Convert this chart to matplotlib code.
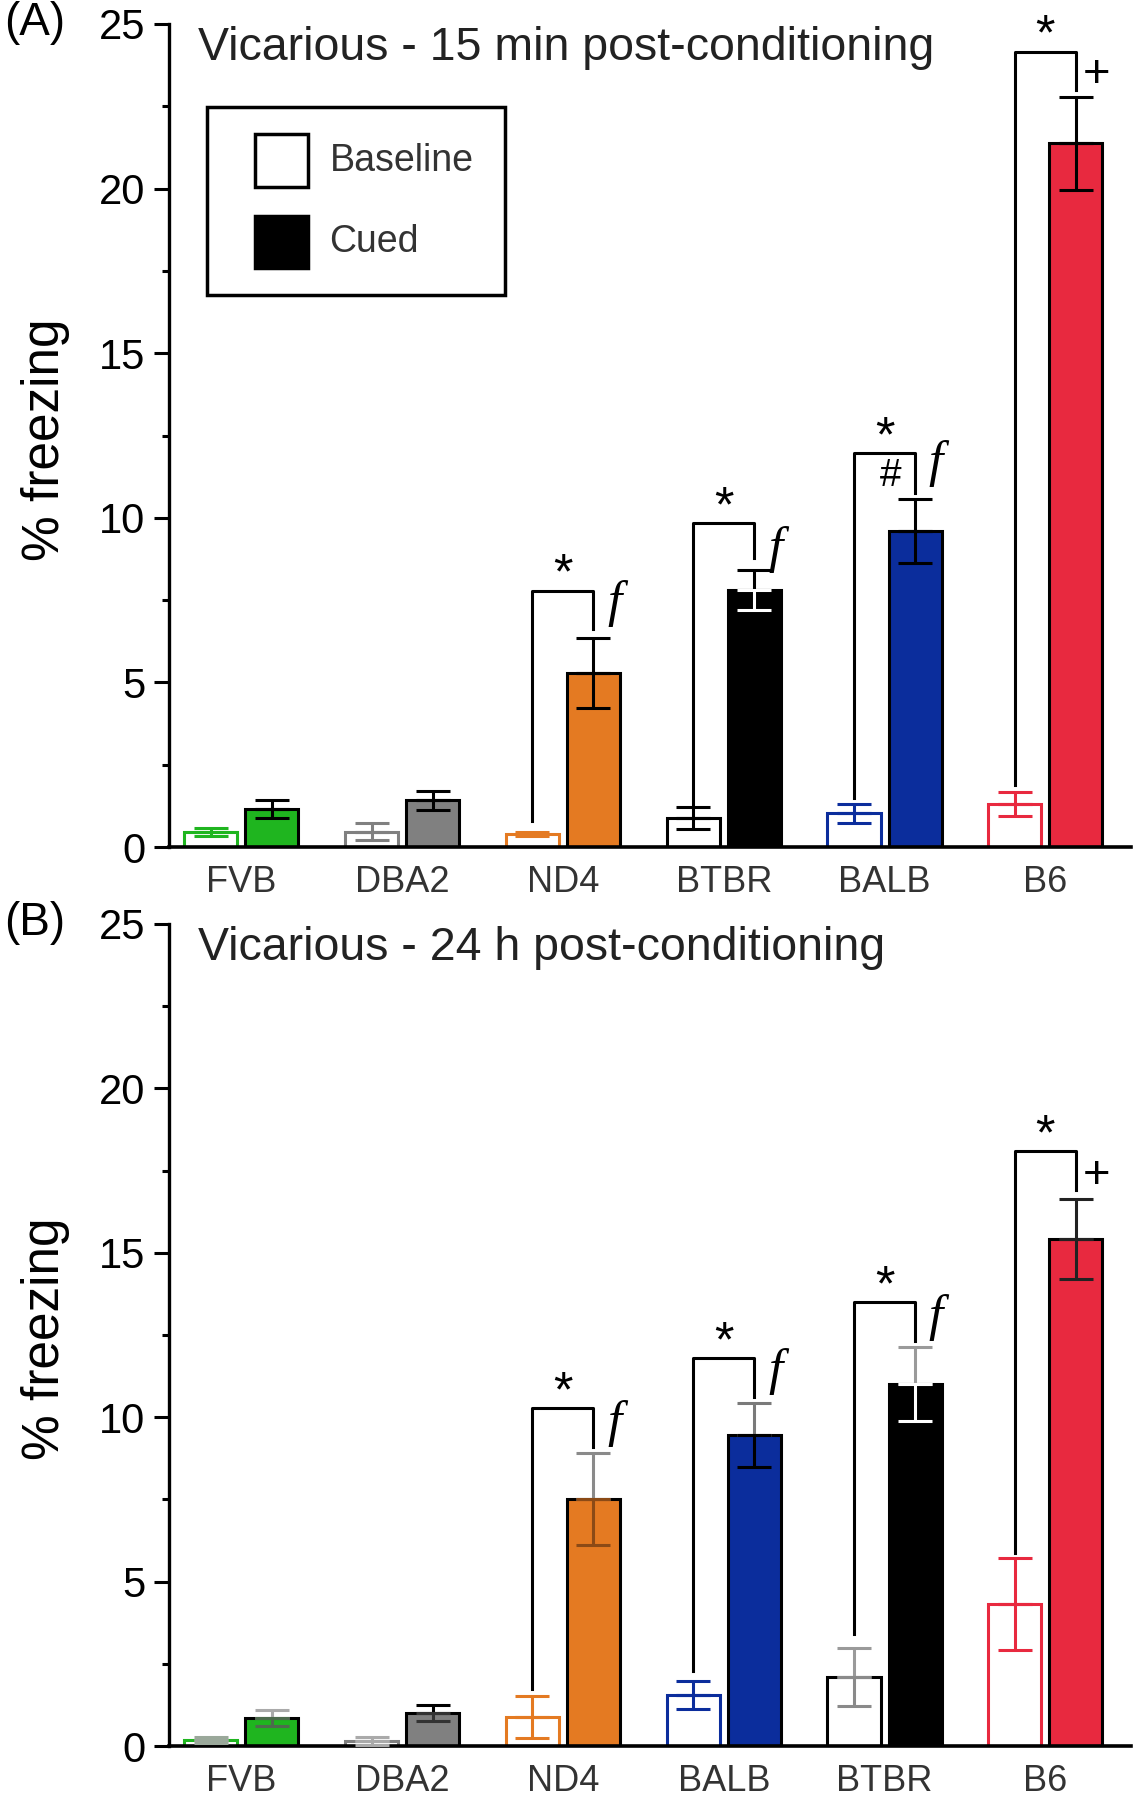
import numpy as np
import matplotlib.pyplot as plt
from matplotlib.patches import Rectangle
from matplotlib.ticker import MultipleLocator

plt.rcParams['font.family'] = ['Liberation Sans', 'DejaVu Sans']

# ---- data, panel A (15 min) ----
strainsA = ['FVB', 'DBA2', 'ND4', 'BTBR', 'BALB', 'B6']
colorsA = ['#1fb51f', '#808080', '#e47a22', '#000000', '#0b2d9c', '#e8293f']
baseA = [0.45, 0.47, 0.40, 0.88, 1.02, 1.30]
baseA_err = [0.12, 0.25, 0.05, 0.34, 0.28, 0.36]
cuedA = [1.15, 1.42, 5.28, 7.81, 9.60, 21.37]
cuedA_err = [0.28, 0.28, 1.06, 0.60, 0.98, 1.40]

# ---- data, panel B (24 h) ----
strainsB = ['FVB', 'DBA2', 'ND4', 'BALB', 'BTBR', 'B6']
colorsB = ['#1fb51f', '#808080', '#e47a22', '#0b2d9c', '#000000', '#e8293f']
baseB = [0.18, 0.15, 0.88, 1.55, 2.10, 4.32]
baseB_err = [0.10, 0.12, 0.63, 0.42, 0.88, 1.40]
cuedB = [0.85, 1.00, 7.51, 9.45, 11.00, 15.41]
cuedB_err = [0.25, 0.24, 1.40, 0.98, 1.13, 1.22]

# error bar colours (upper, lower) per bar
baseA_ecol = [(c, c) for c in colorsA]
cuedA_ecol = [('k', 'k'), ('k', 'k'), ('k', 'k'), ('k', 'w'), ('k', 'k'), ('k', 'k')]
baseB_ecol = [('#9aa89a', '#9aa89a'), ('#aaaaaa', '#aaaaaa'), ('#e47a22', '#e47a22'),
              ('#0b2d9c', '#0b2d9c'), ('#9a9a9a', '#8a8a8a'), ('#e8293f', '#e8293f')]
cuedB_ecol = [('#aaaaaa', '#4d6b4d'), ('k', '#333333'), ('#8a8a8a', '#8b4a16'),
              ('#7a7a7a', 'k'), ('#9a9a9a', 'w'), ('#222222', '#222222')]

# significance brackets: group index, top, left leg bottom, right leg bottom
bracketA_idx = [2, 3, 4, 5]
bracketA_top = [7.79, 9.84, 11.96, 24.16]
bracketA_lb = [0.78, 1.28, 1.48, 1.89]
bracketA_rb = [6.62, 8.78, 10.75, 22.98]
markA = ['f', 'f', 'f', '+']
markA_y = [7.40, 9.05, 11.66, 23.45]

bracketB_idx = [2, 3, 4, 5]
bracketB_top = [10.28, 11.80, 13.50, 18.08]
bracketB_lb = [1.72, 2.29, 3.40, 5.87]
bracketB_rb = [9.08, 10.60, 12.33, 16.91]
markB = ['f', 'f', 'f', '+']
markB_y = [9.81, 11.38, 13.02, 17.32]

off = 0.19
width = 0.33
lw = 2.2


def draw_panel(ax, strains, colors, base, base_err, cued, cued_err,
               base_ecol, cued_ecol, b_idx, b_top, b_lb, b_rb, marks, marks_y,
               title):
    x = np.arange(len(strains))
    ax.bar(x - off, base, width, color='white', edgecolor=colors, linewidth=lw, zorder=2)
    ax.bar(x + off, cued, width, color=colors, edgecolor='k', linewidth=lw, zorder=2)
    for i in range(len(strains)):
        for xx, yy, ee, cc in [(x[i] - off, base[i], base_err[i], base_ecol[i]),
                               (x[i] + off, cued[i], cued_err[i], cued_ecol[i])]:
            ax.errorbar(xx, yy, yerr=[[0], [ee]], fmt='none', ecolor=cc[0],
                        elinewidth=lw, capsize=12, capthick=lw, zorder=3)
            ax.errorbar(xx, yy, yerr=[[ee], [0]], fmt='none', ecolor=cc[1],
                        elinewidth=lw, capsize=12, capthick=lw, zorder=3)

    for j, g in enumerate(b_idx):
        xl, xr = g - off, g + off
        ax.plot([xl, xl, xr, xr], [b_lb[j], b_top[j], b_top[j], b_rb[j]],
                color='k', lw=lw, clip_on=False, zorder=4)
        ax.text(g, b_top[j] + 0.45, '*', ha='center', va='center', fontsize=36,
                clip_on=False)
        if marks[j] == 'f':
            ax.text(xr + 0.13, marks_y[j], 'f', ha='center', va='center',
                    fontsize=37, style='italic', family='Liberation Serif')
        else:
            ax.text(xr + 0.13, marks_y[j], '+', ha='center', va='center', fontsize=34)

    ax.set_xlim(-0.45, 5.53)
    ax.set_ylim(0, 25)
    ax.yaxis.set_major_locator(MultipleLocator(5))
    ax.yaxis.set_minor_locator(MultipleLocator(2.5))
    ax.set_xticks(x)
    ax.set_xticklabels(strains, fontsize=26, color='#333333')
    ax.tick_params(axis='x', length=0, pad=13)
    ax.tick_params(axis='y', which='major', length=11, width=2.2, labelsize=30, pad=6)
    ax.tick_params(axis='y', which='minor', length=5, width=2.2)
    for s in ['top', 'right']:
        ax.spines[s].set_visible(False)
    ax.spines['left'].set_linewidth(2.4)
    ax.spines['bottom'].set_linewidth(2.6)
    ax.set_ylabel('% freezing', fontsize=37)
    ax.yaxis.set_label_coords(-0.103, 0.495)
    ax.text(0.03, 0.971, title, transform=ax.transAxes, fontsize=33.5,
            va='center', ha='left', color='#222222')


fig = plt.figure(figsize=(11.34, 18.0), dpi=100)
axA = fig.add_axes([0.149, 0.5294, 0.848, 0.4573])
axB = fig.add_axes([0.149, 0.030, 0.848, 0.4567])

draw_panel(axA, strainsA, colorsA, baseA, baseA_err, cuedA, cuedA_err,
           baseA_ecol, cuedA_ecol, bracketA_idx, bracketA_top, bracketA_lb,
           bracketA_rb, markA, markA_y,
           'Vicarious - 15 min post-conditioning')
draw_panel(axB, strainsB, colorsB, baseB, baseB_err, cuedB, cuedB_err,
           baseB_ecol, cuedB_ecol, bracketB_idx, bracketB_top, bracketB_lb,
           bracketB_rb, markB, markB_y,
           'Vicarious - 24 h post-conditioning')

fig.text(0.004, 0.987, '(A)', fontsize=33, ha='left', va='center')
fig.text(0.004, 0.487, '(B)', fontsize=33, ha='left', va='center')

# the '#' mark over BALB in panel A
axA.text(4 + off - 0.15, 11.26, '#', ha='center', va='center', fontsize=28)

# legend box (drawn by hand to match the boxed key)
axA.add_patch(Rectangle((0.0394, 0.6708), 0.3102, 0.2288, transform=axA.transAxes,
                        fill=False, edgecolor='k', lw=2.5, clip_on=False))
axA.add_patch(Rectangle((0.0895, 0.8020), 0.0549, 0.0641, transform=axA.transAxes,
                        facecolor='white', edgecolor='k', lw=2.5))
axA.add_patch(Rectangle((0.0895, 0.7029), 0.0549, 0.0641, transform=axA.transAxes,
                        facecolor='k', edgecolor='k', lw=2.5))
axA.text(0.167, 0.834, 'Baseline', transform=axA.transAxes, fontsize=27,
         va='center', ha='left', color='#333333')
axA.text(0.167, 0.735, 'Cued', transform=axA.transAxes, fontsize=27,
         va='center', ha='left', color='#333333')

fig.savefig('out.png', dpi=100)
